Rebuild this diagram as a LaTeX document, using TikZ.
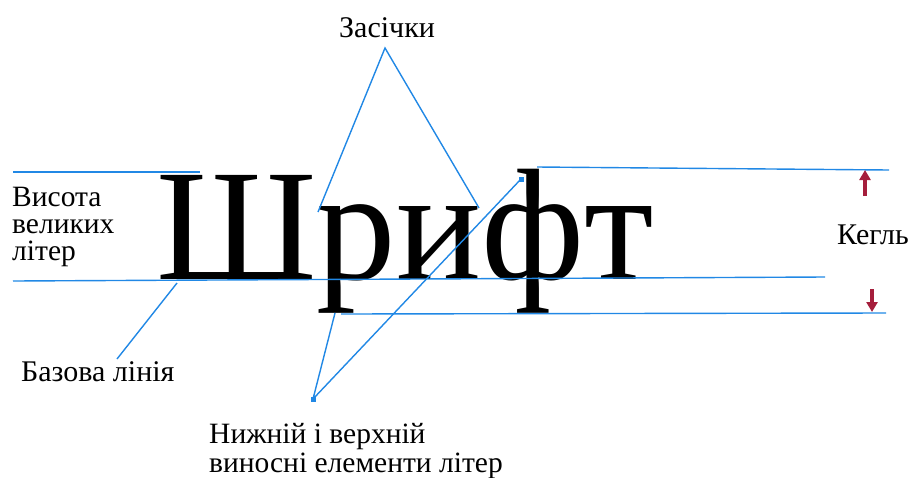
\documentclass[tikz,border=0pt]{standalone}
\usepackage{fontspec}
\setmainfont{Liberation Serif}
\usetikzlibrary{arrows.meta}
\definecolor{guide}{RGB}{33,136,229}
\definecolor{mark}{RGB}{165,30,60}
\begin{document}
\begin{tikzpicture}[x=1pt,y=-1pt,
  guideline/.style={draw=guide,line width=1.4pt},
  lbl/.style={inner sep=0pt,anchor=base west,font=\fontsize{30}{30}\selectfont},
  sidelbl/.style={lbl,font=\fontsize{29.5}{29.5}\selectfont},
  redarrow/.style={draw=mark,line width=4pt,-{Triangle[width=11pt,length=10pt]}},
  endsq/.style={fill=guide,minimum size=5pt,inner sep=0pt}]
\useasboundingbox (0,0) rectangle (912,477);
% main word
\node[inner sep=0pt,anchor=base west,font=\fontsize{159}{159}\selectfont] (word) at (156,279) {Шрифт};
% labels
\node[sidelbl] (cap1) at (12,206) {Висота};
\node[sidelbl] (cap2) at (12,233) {великих};
\node[sidelbl] (cap3) at (12,260) {літер};
\node[lbl] (kegl) at (837,244) {Кегль};
\node[lbl] (zas) at (339,37) {Засічки};
\node[lbl] (baza) at (21,381) {Базова лінія};
\node[lbl,align=left,font=\fontsize{29.5}{28.5}\selectfont] (ext) at (209,472) {Нижній і верхній\\виносні елементи літер};
% guide lines
\coordinate (capL) at (13,172); \coordinate (capR) at (200,172);
\coordinate (baseL) at (13,281); \coordinate (baseR) at (825,277);
\coordinate (ascL) at (537,167); \coordinate (ascR) at (889,170);
\coordinate (descL) at (341,314); \coordinate (descR) at (886,313);
\draw[guideline] (capL) -- (capR);
\draw[guideline] (baseL) -- (baseR);
\draw[guideline] (ascL) -- (ascR);
\draw[guideline] (descL) -- (descR);
% serifs pointer
\coordinate (zasA) at (385,48);
\coordinate (serifL) at (318,212);
\coordinate (serifR) at (479,208);
\draw[guideline] (serifL) -- (zasA) -- (serifR);
% baseline pointer
\coordinate (baseP) at (177,283);
\coordinate (bazaA) at (117,359);
\draw[guideline] (baseP) -- (bazaA);
% extenders pointer
\node[endsq] (extA) at (313,399) {};
\node[endsq] (ascP) at (521,179) {};
\coordinate (descP) at (335,313);
\draw[guideline] (descP) -- (extA.center) -- (ascP.center);
% size arrows
\coordinate (upT) at (865,196); \coordinate (upH) at (865,170);
\coordinate (dnT) at (872,289); \coordinate (dnH) at (872,312);
\draw[redarrow] (upT) -- (upH);
\draw[redarrow] (dnT) -- (dnH);
\end{tikzpicture}
\end{document}
